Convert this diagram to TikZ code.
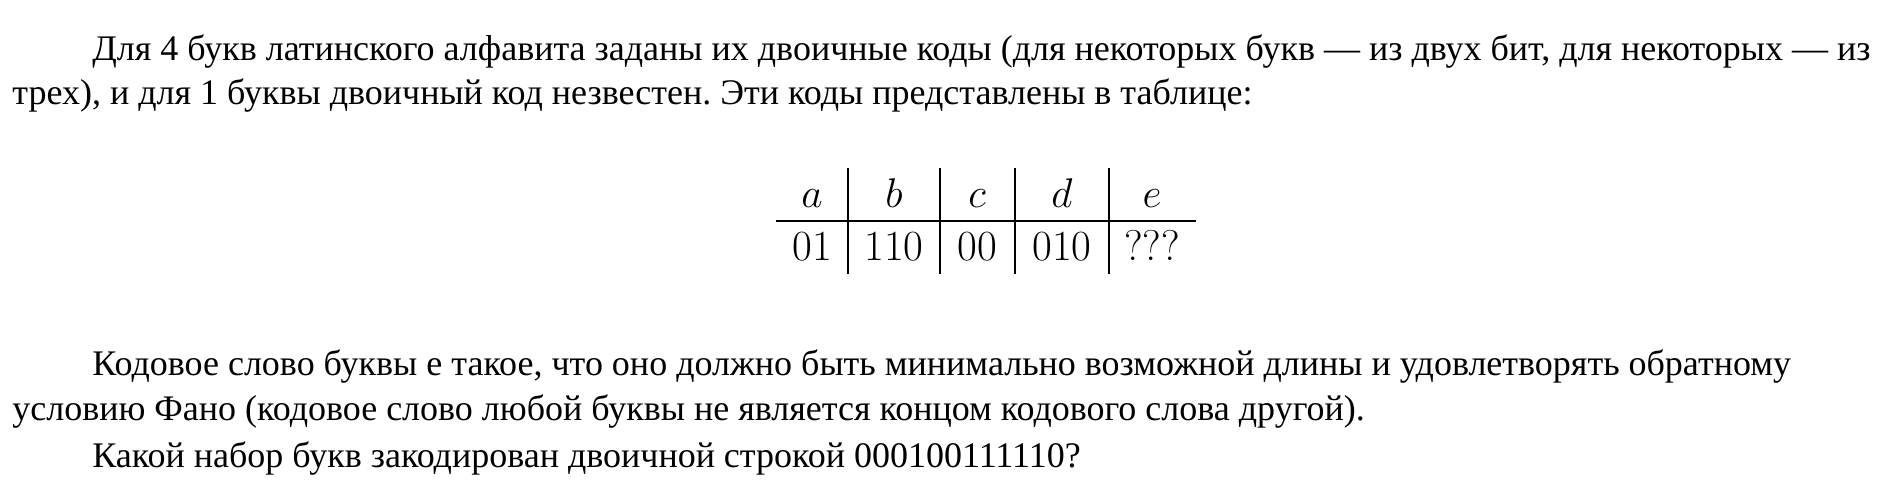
\documentclass[tikz,border=0pt]{standalone}
\usepackage{fontspec}
\newfontfamily\ruserif{Liberation Serif}
\newfontfamily\lmdigits{Latin Modern Roman}
\frenchspacing
\begin{document}
\begin{tikzpicture}[x=0.5pt,y=-0.5pt,
  txt/.style={anchor=base west,inner sep=0pt,font=\ruserif\fontsize{18}{22}\selectfont},
  cell/.style={anchor=base,inner sep=0pt,font=\fontsize{21.5}{26}\selectfont}]
\useasboundingbox (0,0) rectangle (1888,498);
% first paragraph
\node[txt] (p1a) at (92,60) {Для 4 букв латинского алфавита заданы их двоичные коды (для некоторых букв — из двух бит, для некоторых — из};
\node[txt] (p1b) at (12,104) {трех), и для 1 буквы двоичный код незвестен. Эти коды представлены в таблице:};
% the table of codes
\foreach \x/\h/\c [count=\i] in {812/a/01,894/b/110,977/c/00,1062/d/010,1152/e/???}{
\node[cell] (h\i) at (\x,207) {$\h$};
\node[cell] (c\i) at (\x,260) {\lmdigits \c};}
\draw[line width=0.6pt] (776,221) -- (1196,221);
\foreach \x in {848,940,1015,1109} % edit here for the column rules
\draw[line width=0.6pt] (\x,168) -- (\x,274);
% second paragraph
\node[txt] (p2a) at (92,375) {Кодовое слово буквы e такое, что оно должно быть минимально возможной длины и удовлетворять обратному};
\node[txt] (p2b) at (12,420) {условию Фано (кодовое слово любой буквы не является концом кодового слова другой).};
\node[txt] (p3a) at (92,467) {Какой набор букв закодирован двоичной строкой 000100111110?};
\end{tikzpicture}
\end{document}
